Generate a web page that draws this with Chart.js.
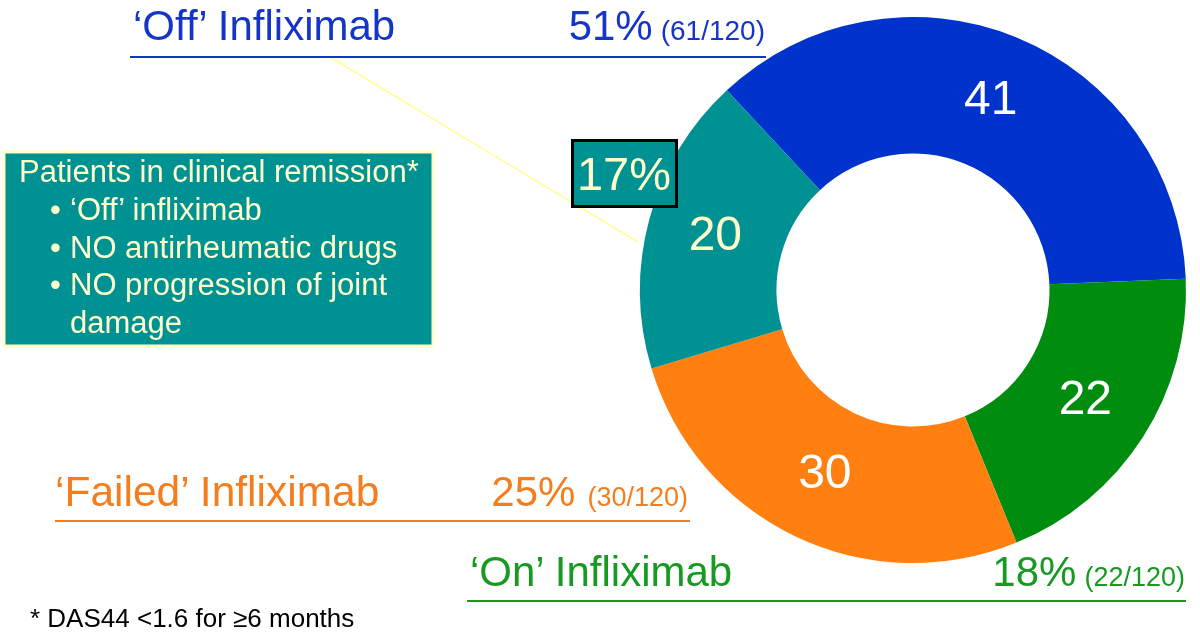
<!DOCTYPE html>
<html>
<head>
<meta charset="utf-8">
<script src="https://cdn.jsdelivr.net/npm/chart.js@4.4.1/dist/chart.umd.min.js"></script>
<style>
  html, body { margin: 0; padding: 0; background: #ffffff; }
  #wrap { position: relative; width: 1200px; height: 636px; overflow: hidden; }
  #c { position: absolute; left: 0; top: 0; }
  #ov { position: absolute; left: 0; top: 0; }
  text { font-family: "Liberation Sans", Arial, Helvetica, sans-serif; }
</style>
</head>
<body>
<div id="wrap">
  <canvas id="c" width="1200" height="636"></canvas>
  <svg id="ov" width="1200" height="636" xmlns="http://www.w3.org/2000/svg">
    <!-- connector from 'Off' underline to teal slice -->
    <line x1="330" y1="57" x2="638" y2="242" stroke="#ffff9a" stroke-width="1.5"/>

    <!-- 'Off' Infliximab -->
    <text x="133" y="40" font-size="42" fill="#1534c8">‘Off’ Infliximab</text>
    <text x="765" y="40" text-anchor="end" fill="#1534c8"><tspan font-size="42">51%</tspan><tspan font-size="28" dx="8">(61/120)</tspan></text>
    <line x1="130" y1="57" x2="766" y2="57" stroke="#1534c8" stroke-width="2"/>

    <!-- remission box -->
    <rect x="4" y="152" width="429" height="194" fill="#009193" stroke="#ffffc8" stroke-width="3"/>
    <text x="19" y="182" font-size="31" fill="#ffffcc">Patients in clinical remission*</text>
    <text x="50" y="220" font-size="31" fill="#ffffcc">•</text>
    <text x="70" y="220" font-size="31" fill="#ffffcc">‘Off’ infliximab</text>
    <text x="50" y="258" font-size="31" fill="#ffffcc">•</text>
    <text x="70" y="258" font-size="31" fill="#ffffcc">NO antirheumatic drugs</text>
    <text x="50" y="295" font-size="31" fill="#ffffcc">•</text>
    <text x="70" y="295" font-size="31" fill="#ffffcc">NO progression of joint</text>
    <text x="70" y="333" font-size="31" fill="#ffffcc">damage</text>

    <!-- 17% box -->
    <rect x="572.5" y="140.5" width="104" height="66" fill="#009193" stroke="#000000" stroke-width="3"/>
    <text x="624" y="190" text-anchor="middle" font-size="47" fill="#ffffcc">17%</text>

    <!-- 'Failed' Infliximab -->
    <text x="55" y="506" font-size="42.5" fill="#f47d1e">‘Failed’ Infliximab</text>
    <text x="688" y="506" text-anchor="end" fill="#f47d1e"><tspan font-size="42">25%</tspan><tspan font-size="27" dx="12">(30/120)</tspan></text>
    <line x1="55" y1="521" x2="690" y2="521" stroke="#f47d1e" stroke-width="2"/>

    <!-- 'On' Infliximab -->
    <text x="470" y="586" font-size="42" fill="#169a22">‘On’ Infliximab</text>
    <text x="1185" y="586" text-anchor="end" fill="#169a22"><tspan font-size="42">18%</tspan><tspan font-size="27" dx="8">(22/120)</tspan></text>
    <line x1="467" y1="601" x2="1186" y2="601" stroke="#169a22" stroke-width="2"/>

    <!-- footnote -->
    <text x="30" y="627" font-size="26" fill="#000000">* DAS44 &lt;1.6 for ≥6 months</text>
  </svg>
</div>
<script>
// ---- data ----
const categories = ["'Off' infliximab, other", "'On' infliximab", "'Failed' infliximab", "'Off' infliximab, remission"];
const patientCounts = [41, 22, 30, 20];
const sliceColors = ["#0033cc", "#008c0f", "#ff7f11", "#009193"];
const labelColors = ["#ffffff", "#ffffff", "#ffffff", "#ffffcc"];

const sliceLabels = {
  id: 'sliceLabels',
  afterDatasetsDraw(chart) {
    const ctx = chart.ctx;
    const meta = chart.getDatasetMeta(0);
    ctx.save();
    ctx.font = '48px "Liberation Sans", Arial, sans-serif';
    ctx.textAlign = 'center';
    ctx.textBaseline = 'middle';
    meta.data.forEach((arc, i) => {
      const p = arc.tooltipPosition();
      ctx.fillStyle = labelColors[i];
      ctx.fillText(String(chart.data.datasets[0].data[i]), p.x, p.y);
    });
    ctx.restore();
  }
};

new Chart(document.getElementById('c'), {
  type: 'doughnut',
  data: {
    labels: categories,
    datasets: [{
      data: patientCounts,
      backgroundColor: sliceColors,
      borderWidth: 0
    }]
  },
  options: {
    responsive: false,
    devicePixelRatio: 1,
    animation: false,
    rotation: -43,
    cutout: '50%',
    layout: { padding: { left: 640, right: 14, top: 17, bottom: 73 } },
    plugins: { legend: { display: false }, tooltip: { enabled: false } }
  },
  plugins: [sliceLabels]
});
</script>
</body>
</html>
